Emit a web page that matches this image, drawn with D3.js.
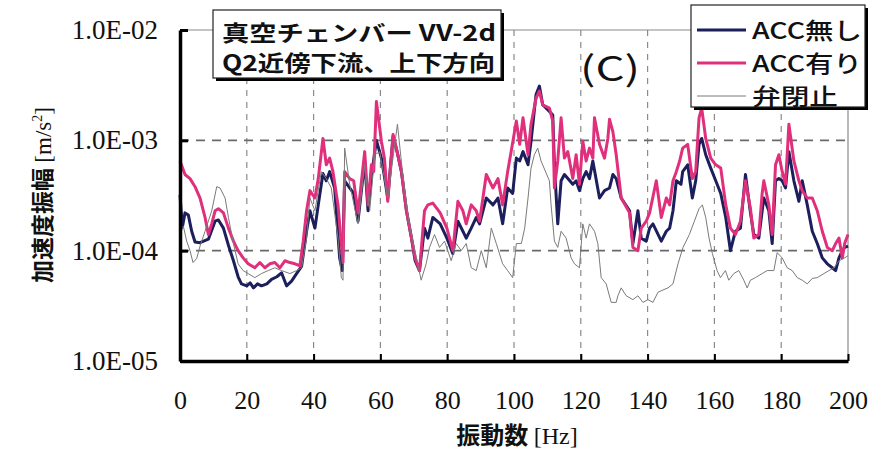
<!DOCTYPE html>
<html>
<head>
<meta charset="utf-8">
<script src="https://cdn.jsdelivr.net/npm/d3@7"></script>
<style>
  html, body { margin: 0; padding: 0; background: #fff; }
  svg { display: block; }
</style>
</head>
<body>
<svg id="chart" width="875" height="450"></svg>
<script>
// Frequency axis ticks [Hz]
const xTicks = [0, 20, 40, 60, 80, 100, 120, 140, 160, 180, 200];
// Acceleration amplitude decades [m/s^2] and their labels
const yTicks = [1e-5, 1e-4, 1e-3, 1e-2];
const yTickLabels = ["1.0E-05", "1.0E-04", "1.0E-03", "1.0E-02"];

// Series names
const seriesNames = ["ACC無し", "ACC有り", "弁閉止"];

// ACC無し : [frequency Hz, amplitude m/s^2]
const accOff = [
  [0,3.2e-4],[0.7,1.63e-4],[1.5,2.2e-4],[2.5,2.1e-4],[3.5,1.5e-4],[4.5,1.2e-4],[6,1.18e-4],
  [8.5,1.27e-4],[10.5,1.85e-4],[11.5,1.9e-4],[13,1.6e-4],[14.5,1.12e-4],[16,8.1e-5],[17.4,5.8e-5],
  [18.4,5.0e-5],[20,4.8e-5],[21,5.1e-5],[22,4.6e-5],[23.2,5.0e-5],[24.4,4.8e-5],[26,5.0e-5],[27.4,5.5e-5],[29,5.8e-5],
  [30.4,6.3e-5],[31.9,4.8e-5],[33.4,5.3e-5],[34.9,6.2e-5],[36.4,7.2e-5],[37.9,1.5e-4],[38.9,2.3e-4],
  [40.4,1.6e-4],[41.4,2.6e-4],[42.8,5.0e-4],[43.8,4.3e-4],[44.8,5.2e-4],[46.3,3.7e-4],[47.8,8.6e-5],
  [48.6,6.6e-5],[49.3,4.3e-4],[50.8,3.7e-4],[52,3.3e-4],[53.3,1.85e-4],[55.3,6.5e-4],[56.3,2.3e-4],
  [57.3,4.7e-4],[58.8,1.0e-3],[60.3,6.9e-4],[61.2,4.7e-4],[62.2,3.0e-4],[63.8,1.09e-3],[65,7.9e-4],
  [66.3,5.2e-4],[67.8,2.3e-4],[69.3,1.3e-4],[70.4,8.1e-5],[71.7,6.6e-5],[73.2,1.6e-4],[74.2,1.3e-4],
  [75.7,2.0e-4],[77.9,1.75e-4],[79.9,1.3e-4],[81.7,9.4e-5],[83.2,1.85e-4],[84.7,1.5e-4],[85.7,1.3e-4],
  [87.2,1.6e-4],[88.7,2.0e-4],[89.7,1.75e-4],[91.7,3.0e-4],[93.7,2.6e-4],[95.2,3.0e-4],[96.6,1.75e-4],
  [98.1,3.7e-4],[99.6,3.3e-4],[100.7,6.9e-4],[101.7,6.5e-4],[102.7,7.9e-4],[104.2,6.0e-4],[105.1,9.8e-4],
  [106.6,2.6e-3],[107.6,3.1e-3],[108.6,2.1e-3],[110.6,1.83e-3],[111.6,1.7e-3],[112.1,6.0e-4],[113.1,1.75e-4],
  [114.1,4.3e-4],[115.1,4.9e-4],[117.6,4.0e-4],[118.6,4.3e-4],[119.6,3.5e-4],[120.6,4.5e-4],[121.6,5.2e-4],
  [122.6,4.5e-4],[123.6,6.5e-4],[125.6,3.0e-4],[127.1,3.5e-4],[128.6,3.7e-4],[129.6,4.9e-4],[130.6,4.5e-4],
  [132.1,3.0e-4],[134.6,2.3e-4],[135.6,1.16e-4],[137.1,2.3e-4],[138.1,1.3e-4],[139.6,1.22e-4],[140.6,1.6e-4],
  [141.6,1.75e-4],[144.1,1.22e-4],[145.6,1.5e-4],[146.6,1.6e-4],[147.6,2.3e-4],[148.6,4.3e-4],[150,4.0e-4],
  [150.5,5.2e-4],[152,6.0e-4],[153.4,3.0e-4],[154.4,4.3e-4],[155.4,9.2e-4],[156.2,1.04e-3],[157.4,7.4e-4],
  [158.9,5.6e-4],[160.4,4.3e-4],[161.9,3.3e-4],[163.4,2.0e-4],[164.8,1.0e-4],[166.3,1.5e-4],[167.8,1.6e-4],
  [169.3,4.9e-4],[170.8,2.2e-4],[171.8,1.4e-4],[173.3,1.3e-4],[174.3,2.3e-4],[174.8,3.0e-4],[176.3,2.3e-4],
  [177.3,1.16e-4],[178.3,4.3e-4],[179.3,4.5e-4],[180.3,4.3e-4],[181.3,3.7e-4],[182.3,7.9e-4],[183.8,4.3e-4],
  [185.3,2.8e-4],[186.3,4.3e-4],[187.8,2.6e-4],[189.3,1.5e-4],[190.8,1.16e-4],[192.3,8.6e-5],[193.8,7.6e-5],
  [195.3,7.0e-5],[196.3,6.6e-5],[197.3,8.6e-5],[198.3,1.0e-4],[199,1.07e-4],[200,1.1e-4]
];

// ACC有り
const accOn = [
  [0,6.5e-4],[1.5,4.9e-4],[3,4.5e-4],[4.5,3.8e-4],[6,3.0e-4],[7.5,2.0e-4],[8.5,1.4e-4],[9.5,1.75e-4],
  [10.5,2.3e-4],[11.5,2.4e-4],[13,2.2e-4],[14.5,1.6e-4],[16,1.22e-4],[17.4,1.0e-4],[18.9,8.6e-5],
  [20.4,7.6e-5],[22.4,7.0e-5],[23.9,7.8e-5],[25.4,7.0e-5],[26.9,7.6e-5],[28.4,7.8e-5],[29.9,7.0e-5],
  [31.4,8.1e-5],[32.9,7.8e-5],[34.4,7.6e-5],[35.9,7.3e-5],[36.9,1.22e-4],[37.9,2.3e-4],[38.9,3.5e-4],
  [40.4,3.0e-4],[41.4,4.5e-4],[42.8,1.04e-3],[43.8,6.0e-4],[44.8,6.9e-4],[45.8,5.2e-4],[47.3,2.6e-4],
  [48.3,1.16e-4],[48.8,7.8e-5],[49.3,5.2e-4],[50.8,4.5e-4],[52,4.3e-4],[53.3,2.2e-4],[55.3,7.9e-4],
  [56.3,2.6e-4],[57.3,6.0e-4],[58,5.2e-4],[58.8,2.25e-3],[60.3,9.8e-4],[61.2,6.9e-4],[62.2,2.8e-4],
  [63.8,1.13e-3],[65,7.9e-4],[66.3,5.2e-4],[67.8,2.3e-4],[69.3,1.3e-4],[70.4,8.6e-5],[71.7,6.6e-5],
  [73.2,2.3e-4],[74.2,2.6e-4],[75.7,2.7e-4],[77.9,2.2e-4],[79.9,1.6e-4],[81.7,1.0e-4],[83.2,2.8e-4],
  [84.7,2.3e-4],[85.7,1.75e-4],[87.2,2.6e-4],[88.7,2.3e-4],[89.7,1.85e-4],[91.7,4.9e-4],[93.7,3.7e-4],
  [95.2,4.5e-4],[96.6,2.6e-4],[98.1,5.2e-4],[99.6,9.5e-4],[100.7,1.5e-3],[101.7,9.2e-4],[102.7,1.6e-3],
  [104.2,7.4e-4],[105.1,1.4e-3],[106.6,2.4e-3],[107.6,2.8e-3],[108.6,2.1e-3],[110.6,1.96e-3],[111.6,1.5e-3],
  [112.1,3.7e-4],[113.1,6.5e-4],[114.1,1.6e-3],[115.1,6.9e-4],[116.1,7.9e-4],[117.6,4.5e-4],[118.6,7.4e-4],
  [119.6,4.0e-4],[120.6,9.8e-4],[121.6,6.5e-4],[122.6,8.5e-4],[123.6,6.9e-4],[124.1,1.6e-3],[125.6,9.2e-4],
  [127.1,6.9e-4],[128.1,1.04e-3],[128.6,1.55e-3],[129.6,1.2e-3],[130.6,7.4e-4],[132.1,3.0e-4],[134.6,2.2e-4],
  [135.6,1.07e-4],[137.1,1.0e-4],[138.1,1.6e-4],[139.6,1.85e-4],[140.6,2.2e-4],[142.6,4.3e-4],[144.1,2.0e-4],
  [145.6,3.0e-4],[146.6,2.6e-4],[147.6,4.3e-4],[148.6,5.2e-4],[149.6,6.5e-4],[150.5,8.5e-4],[152,9.2e-4],
  [153.4,4.5e-4],[154.4,5.2e-4],[155.4,1.6e-3],[156.2,1.96e-3],[157.4,1.04e-3],[158.9,6.9e-4],[160.4,6.0e-4],
  [161.9,5.6e-4],[163.4,2.6e-4],[164.8,1.6e-4],[166.3,1.4e-4],[167.8,1.85e-4],[169.3,4.3e-4],[170.8,2.4e-4],
  [171.8,1.3e-4],[173.3,1.4e-4],[174.3,3.3e-4],[174.8,4.3e-4],[176.3,2.6e-4],[177.3,1.4e-4],[178.3,6.0e-4],
  [179.3,7.4e-4],[180.3,5.2e-4],[181.3,4.0e-4],[182.3,1.4e-3],[183.8,6.5e-4],[185.3,4.3e-4],[186.3,3.5e-4],
  [187.8,3.0e-4],[189.3,3.0e-4],[190.8,2.3e-4],[192.3,1.5e-4],[193.8,1.07e-4],[195.3,1.0e-4],[196.3,1.16e-4],
  [197.3,1.3e-4],[198.3,8.6e-5],[199,1.16e-4],[200,1.4e-4]
];

// 弁閉止
const valveClosed = [
  [0,1.4e-4],[1,1.67e-4],[2,1.22e-4],[3,1.0e-4],[3.9,7.8e-5],[5,8.5e-5],[6,1.1e-4],[7.5,1.5e-4],
  [9.5,2.3e-4],[11,3.8e-4],[12,3.7e-4],[13.5,3.0e-4],[14.5,2.0e-4],[16,1.16e-4],[17.4,7.6e-5],
  [18.9,6.6e-5],[20.4,6.2e-5],[22.4,5.7e-5],[24.4,6.2e-5],[26.4,6.6e-5],[28.4,7.0e-5],[30.4,6.6e-5],
  [32.9,6.2e-5],[34.9,6.6e-5],[36.4,7.0e-5],[37.9,1.3e-4],[38.9,3.0e-4],[40.4,2.3e-4],[42.3,5.2e-4],
  [43.8,4.5e-4],[45.3,3.7e-4],[47.3,1.3e-4],[48.3,5.7e-5],[48.8,5.4e-5],[49.3,8.5e-4],[50.8,4.0e-4],
  [53.3,1.75e-4],[55.3,6.0e-4],[56.8,2.3e-4],[58.3,7.4e-4],[59.8,7.9e-4],[62.2,3.0e-4],[65.1,1.4e-3],
  [66.6,5.2e-4],[68.6,1.75e-4],[71.2,7.6e-5],[72.2,5.4e-5],[73.7,7.6e-5],[74.7,1.07e-4],[76.2,1.4e-4],
  [77.7,1.07e-4],[79.2,1.22e-4],[81.2,8.1e-5],[82.7,1.16e-4],[84.2,1.0e-4],[85.7,1.16e-4],[87.2,7.0e-5],
  [88.7,6.6e-5],[90.2,1.0e-4],[91.7,7.0e-5],[93.2,1.6e-4],[94.7,1.16e-4],[96.6,7.6e-5],[98.1,6.6e-5],
  [99.6,5.7e-5],[100.7,1.16e-4],[102.2,1.16e-4],[103.2,1.6e-4],[104.2,3.0e-4],[105.1,5.6e-4],[106.1,7.4e-4],
  [107.1,8.5e-4],[108.1,6.5e-4],[110.6,4.3e-4],[111.1,2.6e-4],[112.1,1.22e-4],[113.1,1.07e-4],[114.1,1.5e-4],
  [115.6,1.3e-4],[117.1,8.6e-5],[118.1,7.6e-5],[119.6,7.0e-5],[120.6,1.75e-4],[121.6,1.3e-4],[122.6,1.75e-4],
  [124.1,1.5e-4],[125.1,1.16e-4],[126.1,5.7e-5],[127.6,5.0e-5],[129.1,3.4e-5],[130.6,3.4e-5],[131.1,3.9e-5],
  [132.1,4.6e-5],[133.6,3.9e-5],[135.6,3.6e-5],[137.1,3.9e-5],[138.6,3.4e-5],[140.1,3.6e-5],[141.6,3.4e-5],
  [143.1,4.2e-5],[144.6,4.4e-5],[146.1,4.6e-5],[147.6,5.0e-5],[149.1,7.6e-5],[150.6,1.07e-4],[152.5,1.4e-4],
  [154,1.85e-4],[155.4,2.4e-4],[156.4,2.6e-4],[157.4,2.0e-4],[158.4,1.3e-4],[159.4,9.4e-5],[160.8,6.6e-5],
  [161.8,5.7e-5],[163.3,6.6e-5],[164.3,5.4e-5],[165.8,6.2e-5],[167.3,6.6e-5],[168.8,5.4e-5],[169.8,4.6e-5],
  [170.8,5.4e-5],[172.3,5.7e-5],[174.3,6.2e-5],[175.8,6.6e-5],[177.8,6.6e-5],[178.8,9.6e-5],[180.3,8.6e-5],
  [181.8,7.0e-5],[183.3,6.6e-5],[184.8,5.7e-5],[186.3,5.4e-5],[187.8,5.0e-5],[189.3,5.6e-5],[190.8,5.7e-5],
  [192.8,6.2e-5],[194.3,6.6e-5],[195.8,7.0e-5],[197.3,8.1e-5],[199,8.6e-5],[200,9.0e-5]
];

const seriesData = [accOff, accOn, valveClosed];
const seriesColors = ["#1c1f5c", "#e0307c", "#7a7a7a"];
const seriesWidths = [3, 3, 1];

const svg = d3.select("#chart");
const W = 875, H = 450;
svg.append("rect").attr("width", W).attr("height", H).attr("fill", "#fff");

const plotL = 180, plotR = 848, plotT = 30, plotB = 361;
const x = d3.scaleLinear().domain([0, 200]).range([plotL, plotR]);
const y = d3.scaleLog().domain([1e-5, 1e-2]).range([plotB, plotT]);

const serif = "'Liberation Serif', 'DejaVu Serif', serif";
const sans = "'Noto Sans CJK JP', 'Noto Sans', sans-serif";

// Dashed grid
const grid = svg.append("g");
grid.selectAll("line.v").data(xTicks.filter(d => d > 0 && d < 200)).join("line")
  .attr("x1", d => x(d)).attr("x2", d => x(d))
  .attr("y1", plotT).attr("y2", plotB)
  .attr("stroke", "#8a8a8a").attr("stroke-width", 1.2)
  .attr("stroke-dasharray", "6,6");
grid.selectAll("line.h").data(yTicks.filter(d => d > 1e-5 && d < 1e-2)).join("line")
  .attr("x1", plotL).attr("x2", plotR)
  .attr("y1", d => y(d)).attr("y2", d => y(d))
  .attr("stroke", "#6a6a6a").attr("stroke-width", 1.6)
  .attr("stroke-dasharray", "9,7");

// Top and right frame (thin)
svg.append("line").attr("x1", plotL).attr("x2", plotR).attr("y1", plotT).attr("y2", plotT)
  .attr("stroke", "#8a8a8a").attr("stroke-width", 1.2);
svg.append("line").attr("x1", plotR).attr("x2", plotR).attr("y1", plotT).attr("y2", plotB)
  .attr("stroke", "#8a8a8a").attr("stroke-width", 1.2);

// Series lines
const line = d3.line().x(d => x(d[0])).y(d => y(d[1])).curve(d3.curveLinear);
const plot = svg.append("g");
seriesData.forEach((s, i) => {
  plot.append("path").datum(s)
    .attr("d", line)
    .attr("fill", "none")
    .attr("stroke", seriesColors[i])
    .attr("stroke-width", seriesWidths[i])
    .attr("stroke-linejoin", "round");
});

// Axes
const yAxis = d3.axisLeft(y).tickValues(yTicks)
  .tickFormat((d, i) => yTickLabels[i])
  .tickSizeInner(-8).tickSizeOuter(0).tickPadding(22);
const gy = svg.append("g").attr("transform", `translate(${plotL},0)`).call(yAxis);
gy.select(".domain").attr("stroke", "#000").attr("stroke-width", 3.5);
gy.selectAll(".tick line").attr("stroke", "#000").attr("stroke-width", 3);
gy.selectAll(".tick text").attr("font-family", serif).attr("font-size", 27).attr("fill", "#111");

const xAxis = d3.axisBottom(x).tickValues(xTicks)
  .tickSizeInner(-7).tickSizeOuter(0).tickPadding(30);
const gx = svg.append("g").attr("transform", `translate(0,${plotB})`).call(xAxis);
gx.select(".domain").attr("stroke", "#000").attr("stroke-width", 3.5);
gx.selectAll(".tick line").attr("stroke", "#000").attr("stroke-width", 2);
gx.selectAll(".tick text").attr("font-family", serif).attr("font-size", 26).attr("fill", "#111");

// Axis titles
svg.append("text")
  .attr("x", x(100) + 3).attr("y", 444)
  .attr("text-anchor", "middle")
  .attr("font-size", 24).attr("fill", "#111")
  .call(t => {
    t.append("tspan").attr("font-family", sans).attr("font-weight", 700).text("振動数 ");
    t.append("tspan").attr("font-family", serif).text("[Hz]");
  });

svg.append("text")
  .attr("transform", "translate(51,195) rotate(-90)")
  .attr("text-anchor", "middle")
  .attr("font-size", 23).attr("fill", "#111")
  .call(t => {
    t.append("tspan").attr("font-family", sans).attr("font-weight", 700).text("加速度振幅 ");
    t.append("tspan").attr("font-family", serif).text("[m/s");
    t.append("tspan").attr("font-family", serif).attr("font-size", 14).attr("dy", -9).text("2");
    t.append("tspan").attr("font-family", serif).attr("dy", 9).text("]");
  });

// Annotation box with drop shadow
function shadowBox(x0, y0, w, h) {
  svg.append("rect").attr("x", x0 + 3).attr("y", y0 + 3).attr("width", w).attr("height", h)
    .attr("fill", "#000");
  svg.append("rect").attr("x", x0).attr("y", y0).attr("width", w).attr("height", h)
    .attr("fill", "#fff").attr("stroke", "#222").attr("stroke-width", 1.2);
}
shadowBox(213, 10, 288, 68);
svg.append("text").attr("x", 222).attr("y", 41)
  .attr("font-family", sans).attr("font-weight", 700).attr("font-size", 22).attr("fill", "#111")
  .attr("textLength", 274).attr("lengthAdjust", "spacingAndGlyphs")
  .text("真空チェンバー VV-2d");
svg.append("text").attr("x", 222).attr("y", 71)
  .attr("font-family", sans).attr("font-weight", 700).attr("font-size", 22).attr("fill", "#111")
  .attr("textLength", 273).attr("lengthAdjust", "spacingAndGlyphs")
  .text("Q2近傍下流、上下方向");

// Panel label
svg.append("text").attr("x", 580).attr("y", 81)
  .attr("font-family", sans).attr("font-size", 34).attr("fill", "#111")
  .attr("textLength", 60).attr("lengthAdjust", "spacingAndGlyphs")
  .text("(C)");

// Legend
shadowBox(691, 5, 174, 102);
const legendY = [30, 63, 96];
const legendTextW = [110, 110, 86];
seriesNames.forEach((name, i) => {
  svg.append("line").attr("x1", 697).attr("x2", 746)
    .attr("y1", legendY[i]).attr("y2", legendY[i])
    .attr("stroke", seriesColors[i]).attr("stroke-width", seriesWidths[i]);
  svg.append("text").attr("x", 752).attr("y", legendY[i] + 9)
    .attr("font-family", sans).attr("font-weight", 500).attr("font-size", 23).attr("fill", "#111")
    .attr("textLength", legendTextW[i]).attr("lengthAdjust", "spacingAndGlyphs")
    .text(name);
});
</script>
</body>
</html>
